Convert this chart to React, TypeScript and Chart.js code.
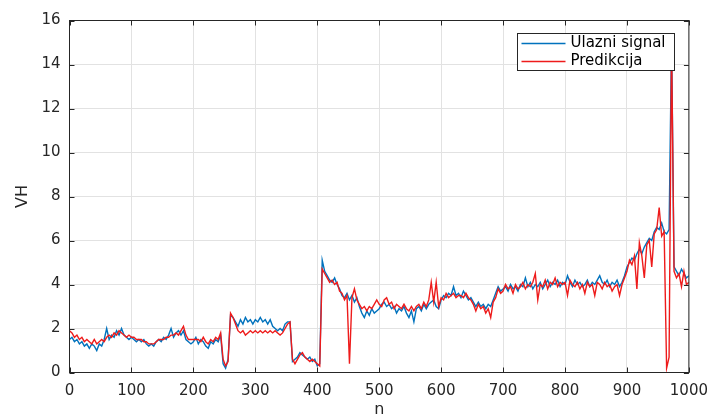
import { useEffect, useRef } from "react";
import { Chart, registerables } from "chart.js";

Chart.register(...registerables);

// Samples are stored every STEP indices, from n = 0 to n = 1000.
const STEP = 4;

const SERIES_NAMES = ["Ulazni signal", "Predikcija"];

// Input signal (VH), one row per 100 samples.
const ULAZNI: number[] = [
  1.5, 1.6, 1.4, 1.5, 1.3, 1.4, 1.2, 1.3, 1.1, 1.3, 1.2, 1.0, 1.3, 1.2, 1.5, 2.0, 1.5, 1.7, 1.6, 1.9, 1.7, 2.0, 1.7, 1.6, 1.5,
  1.6, 1.5, 1.4, 1.5, 1.4, 1.5, 1.3, 1.2, 1.3, 1.2, 1.4, 1.5, 1.4, 1.6, 1.5, 1.7, 2.0, 1.6, 1.8, 1.9, 1.7, 1.9, 1.5, 1.4, 1.3,
  1.4, 1.6, 1.3, 1.5, 1.4, 1.2, 1.1, 1.4, 1.3, 1.5, 1.4, 1.7, 0.4, 0.2, 0.6, 2.6, 2.5, 2.3, 2.1, 2.4, 2.2, 2.5, 2.3, 2.4, 2.2,
  2.4, 2.3, 2.5, 2.3, 2.4, 2.2, 2.4, 2.1, 2.0, 1.9, 2.0, 1.9, 2.2, 2.3, 2.3, 0.5, 0.6, 0.7, 0.9, 0.8, 0.7, 0.6, 0.7, 0.5, 0.6,
  0.3, 0.4, 5.1, 4.6, 4.4, 4.2, 4.1, 4.3, 4.0, 3.8, 3.5, 3.4, 3.6, 3.3, 3.5, 3.2, 3.4, 3.0, 2.7, 2.5, 2.8, 2.6, 2.9, 2.7, 2.8,
  2.9, 3.1, 3.2, 3.0, 3.1, 2.9, 3.0, 2.7, 2.9, 2.8, 3.0, 2.7, 2.5, 2.8, 2.3, 2.9, 3.0, 2.8, 3.1, 2.9, 3.1, 3.2, 3.3, 3.0, 2.9,
  3.3, 3.5, 3.4, 3.6, 3.5, 3.9, 3.5, 3.6, 3.4, 3.7, 3.5, 3.3, 3.4, 3.2, 3.0, 3.2, 3.0, 3.1, 2.9, 3.1, 3.0, 3.3, 3.6, 3.9, 3.7,
  3.8, 3.9, 3.7, 4.0, 3.8, 3.9, 3.7, 4.0, 3.9, 4.3, 3.9, 4.1, 3.8, 4.0, 3.9, 4.1, 3.8, 4.0, 4.2, 3.9, 4.1, 4.0, 4.2, 3.9, 4.1,
  4.0, 4.4, 4.1, 3.9, 4.2, 4.0, 4.1, 3.9, 4.0, 4.2, 3.9, 4.1, 4.0, 4.2, 4.4, 4.1, 4.0, 4.2, 3.9, 4.1, 4.0, 4.2, 3.9, 4.1, 4.4,
  4.8, 5.0, 5.2, 5.1, 5.4, 5.6, 5.4, 5.7, 5.9, 6.1, 6.0, 6.4, 6.6, 6.5, 6.8, 6.4, 6.3, 6.5, 15.2, 4.8, 4.6, 4.4, 4.7, 4.5, 4.3,
  4.4,
];

// Model prediction (VH), same sample grid.
const PREDIKCIJA: number[] = [
  1.9, 1.8, 1.6, 1.7, 1.5, 1.6, 1.4, 1.5, 1.4, 1.3, 1.5, 1.3, 1.4, 1.5, 1.4, 1.6, 1.7, 1.6, 1.8, 1.7, 1.9, 1.8, 1.7, 1.6, 1.7,
  1.6, 1.6, 1.5, 1.5, 1.5, 1.4, 1.4, 1.3, 1.3, 1.3, 1.4, 1.5, 1.5, 1.5, 1.6, 1.6, 1.7, 1.7, 1.8, 1.7, 1.9, 2.1, 1.7, 1.5, 1.5,
  1.5, 1.5, 1.5, 1.4, 1.6, 1.4, 1.3, 1.5, 1.4, 1.6, 1.5, 1.8, 0.6, 0.3, 0.5, 2.7, 2.5, 2.2, 1.9, 1.8, 1.9, 1.7, 1.8, 1.9, 1.8,
  1.9, 1.8, 1.9, 1.8, 1.9, 1.8, 1.9, 1.8, 1.9, 1.8, 1.7, 1.8, 2.0, 2.2, 2.3, 0.6, 0.4, 0.6, 0.8, 0.9, 0.7, 0.6, 0.5, 0.6, 0.5,
  0.4, 0.3, 4.7, 4.5, 4.3, 4.1, 4.2, 4.0, 4.1, 3.7, 3.6, 3.3, 3.5, 0.4, 3.4, 3.8, 3.3, 3.1, 2.9, 3.0, 2.8, 3.0, 2.9, 3.1, 3.3,
  3.1, 3.0, 3.3, 3.4, 3.1, 3.2, 2.9, 3.1, 3.0, 2.9, 3.1, 2.9, 2.8, 3.0, 2.8, 3.0, 3.1, 2.9, 3.2, 3.0, 3.3, 4.1, 3.2, 4.1, 3.0,
  3.4, 3.3, 3.6, 3.4, 3.5, 3.6, 3.4, 3.5, 3.5, 3.4, 3.6, 3.4, 3.3, 3.1, 2.8, 3.1, 2.9, 3.0, 2.7, 2.9, 2.5, 3.2, 3.4, 3.8, 3.6,
  3.7, 4.0, 3.8, 3.9, 3.6, 4.0, 3.8, 3.9, 4.1, 3.8, 4.0, 3.9, 4.1, 4.5, 3.3, 4.0, 3.9, 4.2, 3.8, 4.1, 4.0, 4.3, 3.9, 4.1, 4.0,
  4.1, 3.5, 4.2, 4.0, 3.9, 4.1, 3.8, 4.0, 3.6, 4.1, 3.9, 4.0, 3.5, 4.1, 4.0, 3.8, 4.1, 3.9, 4.0, 3.7, 3.9, 4.0, 3.5, 4.0, 4.3,
  4.6, 5.1, 4.9, 5.3, 3.8, 5.9, 5.3, 4.3, 5.8, 6.0, 4.8, 6.3, 6.5, 7.5, 6.2, 6.4, 0.2, 0.7, 15.0, 4.6, 4.3, 4.5, 3.9, 4.6, 4.0,
  4.1,
];

const X_MIN = 0;
const X_MAX = 1000;
const X_STEP = 100;
const Y_MIN = 0;
const Y_MAX = 16;
const Y_STEP = 2;

const BLUE = "#0072BD";
const RED = "#EE1B1B";
const AXIS = "#262626";
const GRID = "#e2e2e2";
const FONT = "'DejaVu Sans', 'Liberation Sans', Arial, sans-serif";

const toPoints = (values: number[]) => values.map((v, i) => ({ x: i * STEP, y: v }));

// Box outline and inward tick marks on all four sides.
const framePlugin = {
  id: "frame",
  afterDatasetsDraw(chart: any) {
    const { ctx, chartArea: a, scales } = chart;
    const tick = 5;
    ctx.save();
    ctx.strokeStyle = AXIS;
    ctx.lineWidth = 1;
    ctx.strokeRect(a.left, a.top, a.right - a.left, a.bottom - a.top);
    ctx.beginPath();
    scales.x.ticks.forEach((t: any) => {
      const px = Math.round(scales.x.getPixelForValue(t.value)) + 0.5;
      ctx.moveTo(px, a.bottom);
      ctx.lineTo(px, a.bottom - tick);
      ctx.moveTo(px, a.top);
      ctx.lineTo(px, a.top + tick);
    });
    scales.y.ticks.forEach((t: any) => {
      const py = Math.round(scales.y.getPixelForValue(t.value)) + 0.5;
      ctx.moveTo(a.left, py);
      ctx.lineTo(a.left + tick, py);
      ctx.moveTo(a.right, py);
      ctx.lineTo(a.right - tick, py);
    });
    ctx.stroke();
    ctx.restore();
  },
};

// Boxed legend in the upper right corner, one row per dataset in dataset order.
const legendBoxPlugin = {
  id: "legendBox",
  afterDraw(chart: any) {
    const { ctx } = chart;
    const bx = 517.5;
    const by = 33.5;
    const bw = 157;
    const bh = 37;
    ctx.save();
    ctx.fillStyle = "#ffffff";
    ctx.fillRect(bx, by, bw, bh);
    ctx.lineWidth = 1;
    ctx.strokeStyle = AXIS;
    ctx.strokeRect(bx, by, bw, bh);
    ctx.font = `15px ${FONT}`;
    ctx.textBaseline = "middle";
    ctx.textAlign = "left";
    chart.data.datasets.forEach((ds: any, i: number) => {
      const y = by + 10 + i * 18;
      ctx.beginPath();
      ctx.strokeStyle = ds.borderColor;
      ctx.lineWidth = 1.5;
      ctx.moveTo(bx + 4, y);
      ctx.lineTo(bx + 48, y);
      ctx.stroke();
      ctx.fillStyle = "#000000";
      ctx.fillText(ds.label, bx + 53, y);
    });
    ctx.restore();
  },
};

const plainNumber = (v: any) => String(v);

export default function App() {
  const canvasRef = useRef<HTMLCanvasElement | null>(null);

  useEffect(() => {
    const canvas = canvasRef.current;
    if (!canvas) return;
    const chart = new Chart(canvas, {
      type: "line",
      data: {
        datasets: [
          {
            label: SERIES_NAMES[0],
            data: toPoints(ULAZNI),
            borderColor: BLUE,
            borderWidth: 1.4,
            pointRadius: 0,
            tension: 0,
            order: 2,
          },
          {
            label: SERIES_NAMES[1],
            data: toPoints(PREDIKCIJA),
            borderColor: RED,
            borderWidth: 1.4,
            pointRadius: 0,
            tension: 0,
            order: 1,
          },
        ],
      },
      options: {
        responsive: false,
        animation: false,
        events: [],
        layout: { padding: { top: 20.5, right: 25.5, left: 0, bottom: 0 } },
        plugins: { legend: { display: false }, tooltip: { enabled: false } },
        scales: {
          x: {
            type: "linear",
            min: X_MIN,
            max: X_MAX,
            afterFit: (s: any) => {
              s.height = 46.5;
            },
            ticks: {
              stepSize: X_STEP,
              color: AXIS,
              font: { family: FONT, size: 15 },
              padding: 10,
              maxRotation: 0,
              autoSkip: false,
              callback: plainNumber,
            },
            grid: { color: GRID, drawTicks: false },
            border: { display: false },
            title: {
              display: true,
              text: "n",
              color: AXIS,
              font: { family: FONT, size: 16 },
              padding: { top: 0, bottom: 0 },
            },
          },
          y: {
            type: "linear",
            min: Y_MIN,
            max: Y_MAX,
            afterFit: (s: any) => {
              s.width = 69.5;
            },
            ticks: {
              stepSize: Y_STEP,
              color: AXIS,
              font: { family: FONT, size: 15 },
              padding: 9,
              callback: plainNumber,
            },
            grid: { color: GRID, drawTicks: false },
            border: { display: false },
            title: {
              display: true,
              text: "VH",
              color: AXIS,
              font: { family: FONT, size: 16 },
              padding: { top: 13, bottom: 0 },
            },
          },
        },
      },
      plugins: [framePlugin, legendBoxPlugin],
    });
    return () => chart.destroy();
  }, []);

  return (
    <div style={{ position: "absolute", left: 0, top: 0, width: 718, height: 419, background: "#ffffff" }}>
      <canvas ref={canvasRef} width={718} height={419} />
    </div>
  );
}
